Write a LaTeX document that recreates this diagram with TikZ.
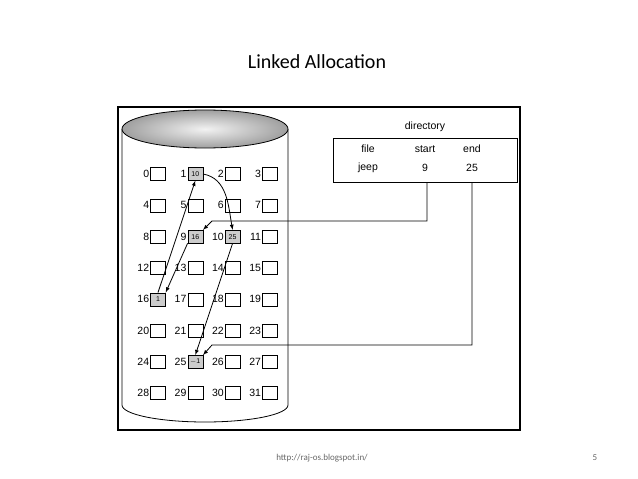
\documentclass[tikz,border=0pt]{standalone}
\usepackage{fontspec}
\setmainfont{Carlito}
\newfontfamily\arialf{Liberation Sans}
\usetikzlibrary{arrows}

\begin{document}
\begin{tikzpicture}[
    x = 1pt, y = -1pt,
    >=latex,
    blk/.style = {draw, minimum width=15pt, minimum height=13pt, inner sep=0pt, font=\arialf\fontsize{7}{7}\selectfont},
    used/.style = {blk, fill=gray!40},
    num/.style = {anchor=east, inner sep=1pt, font=\arialf\fontsize{10.5}{10.5}\selectfont},
    dirtext/.style = {font=\arialf\fontsize{10.5}{10.5}\selectfont},
    link/.style = {->, thick}]

\useasboundingbox (0,0) rectangle (638,479);

\node[font=\fontsize{20}{20}\selectfont] (title) at (317,62) {Linked Allocation};

\draw[line width=2pt] (118,107) rectangle (520,430); % the frame

% The disk
\draw[thick, fill=white] (122,129) -- (122,405) arc[start angle=180, end angle=0, x radius=83, y radius=17] -- (288,129);
\draw[thick, inner color=gray!10, outer color=gray!75] (205,129) ellipse [x radius=83, y radius=19];

\foreach \i in {0,...,31} {
    \pgfmathtruncatemacro\r{int(\i/4)}
    \pgfmathtruncatemacro\c{mod(\i,4)}
    \node[blk] (c\i) at ({158+37.3*\c},{174+31.3*\r}) {};
    \node[num] (n\i) at (c\i.west) {\i};
}

\node[used] at (c1) {10};
\node[used] at (c9) {16};
\node[used] at (c10) {25};
\node[used] at (c16) {1};
\node[used] at (c25) {$-$1};

% Directory
\node[dirtext] (dir) at (425,127) {directory};
\draw[thick] (333,138) rectangle (517,182);
\node[dirtext] (file) at (368,149) {file};
\node[dirtext] (start) at (425,149) {start};
\node[dirtext] (end) at (472,149) {end};
\node[dirtext] (jeep) at (368,168) {jeep};
\node[dirtext] (nine) at (425,168) {9};
\node[dirtext] (tfive) at (472,168) {25};

\coordinate (sb) at (427,182);
\coordinate (eb) at (472,182);
\coordinate (sk) at (212,221);
\coordinate (ek) at (212,345);

% Links
\draw[link] (sb) |- (sk) -- (c9.north east);
\draw[link] (eb) |- (ek) -- (c25.north east);
\draw[link] (c9.south west) -- (c16.north east);
\draw[link] (c16.north) -- (c1.south);
\draw[link] (c1.east) to[out=-10, in=100] (c10.north);
\draw[link] (c10.south) -- (c25.north);

\node[dirtext, text=gray!80!black, font=\fontsize{9}{9}\selectfont] (url) at (322,458) {http://raj-os.blogspot.in/};
\node[text=gray!80!black, font=\fontsize{9}{9}\selectfont] (page) at (595,458) {5};

\end{tikzpicture}
\end{document}
